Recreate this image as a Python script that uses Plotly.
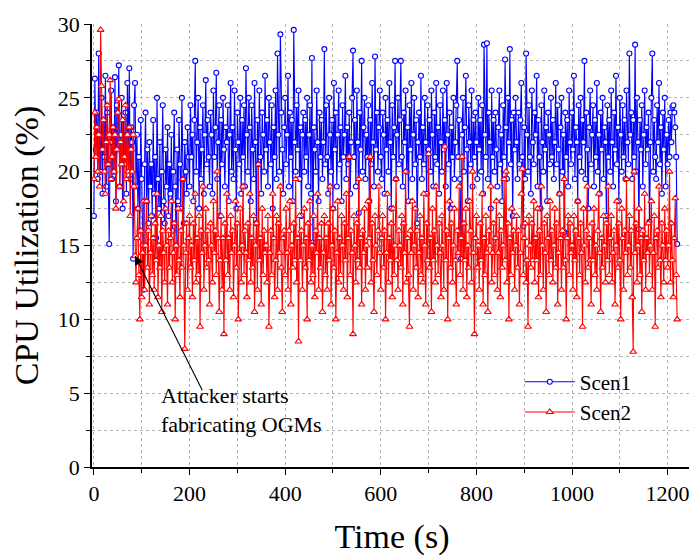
import numpy as np
import plotly.graph_objects as go

# Sampling interval (s)
dt = 2

scen1 = [
    17.0, 26.3, 21.5, 24.0, 19.5, 28.0, 22.5, 20.0, 25.0, 18.5, 23.5, 21.0, 26.5, 19.0, 24.0, 20.5, 15.1, 22.0, 25.5, 19.5,
    23.0, 20.0, 26.4, 18.0, 24.5, 21.5, 27.2, 19.0, 22.5, 25.0, 17.5, 23.5, 20.5, 24.0, 18.5, 26.0, 21.0, 27.0, 19.5, 23.0,
    22.0, 14.1, 24.5, 26.0, 19.0, 22.5, 17.5, 21.0, 16.0, 23.5, 19.5, 15.0, 12.0, 20.5, 24.0, 18.0, 21.5, 16.5, 22.0, 19.0,
    20.5, 17.0, 23.5, 18.5, 21.0, 15.5, 25.0, 19.5, 17.5, 22.0, 14.5, 20.0, 24.5, 18.0, 16.5, 21.5, 19.0, 23.0, 17.0, 20.5,
    18.5, 22.5, 16.0, 20.0, 24.0, 19.0, 15.0, 21.5, 18.0, 23.5, 20.5, 17.5, 25.0, 19.5, 16.5, 22.0, 20.0, 18.5, 23.0, 21.0,
    19.0, 24.5, 21.0, 22.5, 18.0, 23.5, 27.5, 20.0, 22.0, 25.0, 17.5, 23.0, 19.5, 21.5, 24.5, 18.5, 22.5, 26.2, 20.5, 23.5,
    21.0, 19.0, 24.0, 22.5, 18.5, 25.5, 21.0, 23.0, 26.7, 19.5, 22.0, 24.5, 17.0, 23.5, 20.5, 25.0, 21.5, 19.0, 23.0, 22.0,
    24.5, 18.0, 22.5, 26.0, 20.0, 23.0, 19.5, 25.5, 21.5, 17.5, 24.0, 22.0, 20.5, 25.0, 18.5, 23.5, 21.0, 24.5, 19.0, 27.0,
    22.5, 20.0, 25.0, 23.0, 18.0, 24.5, 21.5, 19.5, 26.0, 22.0, 16.5, 23.5, 20.5, 25.5, 21.0, 18.5, 24.0, 22.5, 20.0, 26.5,
    21.5, 23.5, 19.0, 25.0, 22.0, 20.5, 24.5, 17.5, 23.0, 21.0, 25.5, 19.5, 28.0, 22.5, 20.0, 29.3, 24.0, 21.5, 18.5, 23.0,
    25.0, 20.5, 22.5, 26.5, 19.0, 24.0, 21.0, 23.5, 18.0, 29.6, 22.0, 20.0, 24.5, 21.5, 25.5, 19.5, 23.0, 17.0, 22.5, 24.0,
    20.0, 23.5, 21.0, 25.0, 19.0, 22.5, 24.5, 18.5, 27.7, 15.2, 23.0, 21.5, 20.0, 25.5, 22.0, 18.0, 24.0, 21.0, 23.5, 19.5,
    22.0, 28.3, 20.5, 24.5, 21.0, 18.5, 25.0, 22.5, 20.0, 23.5, 17.5, 26.0, 21.5, 24.0, 19.0, 22.5, 25.5, 20.5, 23.0, 18.0,
    24.5, 21.0, 22.5, 26.5, 19.5, 23.0, 20.5, 24.0, 18.5, 22.0, 25.0, 28.2, 21.0, 23.5, 19.0, 25.5, 22.0, 17.2, 24.0, 21.5,
    27.5, 20.0, 23.0, 25.0, 19.5, 22.5, 21.0, 24.5, 18.0, 23.5, 20.5, 26.0, 22.0, 19.0, 27.8, 21.5, 24.0, 20.0, 23.0, 25.5,
    21.0, 19.5, 24.0, 22.5, 18.5, 25.0, 21.5, 23.5, 20.0, 26.0, 22.0, 17.5, 24.5, 21.0, 23.0, 27.5, 19.5, 22.5, 25.0, 20.5,
    23.5, 27.5, 21.0, 19.0, 24.0, 22.0, 25.5, 20.0, 23.0, 18.0, 24.5, 21.5, 26.0, 19.5, 22.5, 25.0, 20.5, 23.5, 16.5, 22.0,
    24.0, 21.0, 26.5, 19.5, 23.0, 20.5, 25.0, 22.0, 18.5, 24.5, 21.5, 23.5, 20.0, 25.5, 22.5, 19.0, 24.0, 21.0, 26.0, 20.5,
    23.0, 18.5, 24.5, 22.0, 20.0, 25.5, 21.5, 23.5, 19.0, 26.0, 22.5, 20.5, 24.0, 17.5, 23.0, 21.0, 25.0, 19.5, 22.0, 24.5,
    27.5, 21.0, 23.5, 19.5, 14.1, 22.5, 25.0, 20.0, 23.0, 26.5, 21.5, 18.0, 24.5, 22.0, 20.5, 25.5, 19.0, 23.5, 21.0, 24.0,
    22.0, 19.5, 25.0, 21.5, 23.5, 20.0, 24.5, 18.5, 28.6, 22.5, 21.0, 28.7, 19.5, 24.0, 22.0, 17.5, 25.5, 21.0, 23.5, 20.0,
    24.0, 21.5, 19.0, 23.0, 25.5, 20.5, 22.5, 18.0, 24.5, 21.0, 27.6, 23.0, 19.5, 25.0, 22.0, 28.3, 20.5, 23.5, 17.0, 24.0,
    21.5, 25.0, 22.0, 19.5, 24.0, 20.5, 23.5, 26.0, 21.0, 16.3, 23.0, 19.5, 28.0, 22.5, 20.0, 24.5, 21.0, 18.5, 25.5, 22.0,
    20.5, 24.0, 22.5, 26.5, 19.0, 23.5, 21.0, 17.5, 24.5, 22.0, 20.0, 25.5, 21.5, 23.0, 18.0, 24.0, 22.5, 20.5, 25.0, 21.0,
    23.5, 19.5, 22.0, 26.0, 20.5, 24.5, 21.5, 18.5, 23.0, 25.0, 20.0, 22.5, 15.9, 24.0, 21.0, 23.5, 19.0, 25.5, 22.0, 20.5,
    24.0, 21.5, 26.5, 19.5, 23.0, 22.0, 18.0, 24.5, 21.0, 25.0, 20.0, 23.5, 22.0, 27.5, 19.5, 24.0, 21.5, 17.5, 23.0, 25.5,
    20.5, 22.5, 24.5, 19.0, 23.5, 21.0, 26.0, 20.0, 22.5, 18.5, 24.0, 21.5, 25.0, 19.5, 23.0, 22.0, 17.0, 24.5, 21.0, 23.5,
    20.0, 25.5, 22.0, 19.0, 24.0, 21.5, 26.5, 20.5, 23.0, 18.0, 25.0, 22.5, 20.0, 24.5, 21.0, 23.5, 19.5, 25.5, 22.0, 20.5,
    28.0, 22.5, 24.0, 19.5, 23.5, 21.0, 28.6, 20.0, 25.0, 22.0, 16.1, 23.5, 21.5, 24.5, 19.0, 22.5, 25.5, 20.5, 23.0, 21.5,
    24.0, 16.6, 22.0, 25.0, 28.0, 20.0, 23.5, 21.0, 19.5, 24.5, 22.0, 26.0, 20.5, 23.0, 18.5, 24.0, 21.5, 25.0, 19.0, 22.5,
    20.5, 23.5, 21.0, 24.0, 22.0, 24.4, 24.5, 24.0, 23.0, 21.0, 15.1,
]

scen2 = [
    19.5, 24.0, 21.0, 23.0, 20.0, 22.5, 19.0, 29.6, 25.8, 21.5, 23.5, 20.0, 18.5, 22.0, 24.5, 20.5, 22.5, 26.2, 19.5, 21.0,
    23.0, 20.0, 22.5, 17.5, 21.5, 24.0, 24.9, 19.0, 22.0, 20.5, 23.5, 18.0, 21.0, 24.5, 19.5, 22.5, 20.0, 23.0, 17.0, 21.5,
    20.0, 22.5, 19.0, 14.3, 12.5, 15.5, 17.5, 13.0, 10.0, 16.0, 11.5, 14.5, 18.0, 12.0, 15.0, 18.0, 13.5, 16.0, 11.0, 14.5,
    17.0, 13.0, 15.5, 12.0, 16.5, 14.0, 18.5, 11.5, 15.0, 13.5, 17.0, 10.5, 16.0, 14.5, 12.5, 17.5, 15.0, 11.0, 16.0, 13.5,
    15.5, 18.0, 12.5, 14.5, 16.5, 10.0, 15.0, 13.0, 17.5, 14.0, 11.5, 16.0, 13.5, 19.5, 15.0, 8.0, 14.5, 16.5, 12.0, 15.5,
    17.0, 13.5, 15.0, 11.5, 16.5, 14.0, 18.5, 12.5, 15.5, 13.0, 17.0, 9.5, 16.0, 14.5, 19.0, 12.0, 15.0, 17.5, 13.5, 16.0,
    14.0, 11.0, 16.5, 15.0, 12.5, 18.0, 14.5, 16.0, 13.0, 20.0, 15.5, 10.5, 14.0, 17.0, 12.0, 15.5, 9.0, 16.5, 14.0, 18.5,
    13.0, 15.5, 12.0, 17.0, 14.5, 16.0, 11.5, 15.0, 18.0, 13.5, 16.5, 10.0, 14.5, 17.5, 12.5, 15.0, 19.0, 13.0, 16.0, 14.5,
    11.5, 16.5, 14.0, 18.5, 12.5, 15.5, 13.5, 17.0, 10.5, 15.0, 16.5, 12.0, 20.5, 14.0, 15.5, 11.0, 17.5, 13.0, 16.0, 14.5,
    15.0, 12.5, 17.0, 9.5, 14.5, 16.0, 13.0, 18.5, 15.5, 11.5, 14.0, 17.0, 12.0, 16.5, 14.5, 19.0, 13.5, 10.5, 15.5, 16.0,
    13.0, 17.5, 14.5, 12.0, 16.0, 18.0, 11.0, 15.0, 13.5, 16.5, 14.0, 19.5, 12.5, 15.5, 8.5, 17.0, 14.0, 16.0, 12.0, 15.0,
    17.5, 13.5, 15.5, 10.0, 16.5, 14.0, 18.0, 12.5, 15.0, 13.0, 17.0, 11.5, 16.0, 14.5, 18.5, 12.0, 15.5, 13.5, 16.5, 10.5,
    14.5, 17.0, 13.0, 15.5, 12.0, 16.5, 14.0, 19.0, 11.0, 15.0, 17.5, 13.5, 16.0, 10.0, 14.5, 18.0, 12.5, 15.5, 13.0, 17.0,
    15.0, 12.0, 16.5, 14.0, 18.5, 11.5, 15.5, 21.0, 13.0, 16.0, 14.5, 9.0, 17.0, 15.0, 12.5, 16.5, 14.0, 19.5, 13.5, 15.5,
    11.0, 16.0, 14.5, 17.5, 12.0, 15.0, 13.5, 18.0, 15.5, 21.0, 12.5, 16.5, 14.0, 10.5, 17.0, 15.0, 13.0, 16.0, 19.0, 14.5,
    12.0, 15.5, 17.0, 13.5, 16.0, 10.0, 14.5, 18.5, 12.5, 15.5, 14.0, 16.5, 11.5, 17.5, 13.0, 15.0, 19.5, 14.0, 12.0, 16.0,
    15.0, 13.5, 17.0, 11.0, 16.5, 14.5, 20.0, 12.5, 15.5, 13.0, 9.5, 16.0, 14.5, 18.0, 12.0, 15.0, 17.5, 13.5, 16.0, 11.5,
    14.5, 17.0, 13.0, 15.5, 12.5, 18.5, 15.0, 11.0, 16.5, 14.0, 21.2, 13.5, 15.5, 10.5, 17.5, 14.0, 16.0, 12.5, 19.0, 15.0,
    13.0, 16.5, 14.5, 11.5, 17.0, 15.0, 12.0, 21.7, 14.0, 16.0, 10.0, 15.5, 18.0, 13.5, 16.5, 12.5, 15.0, 17.5, 14.0, 11.0,
    16.0, 14.5, 19.0, 13.0, 15.5, 21.0, 12.0, 16.5, 14.0, 17.5, 11.5, 15.0, 13.5, 18.0, 16.0, 12.5, 20.0, 14.5, 9.0, 15.5,
    17.0, 13.5, 15.0, 12.0, 16.5, 14.0, 18.5, 11.0, 15.5, 13.0, 17.0, 14.5, 10.5, 16.0, 15.0, 19.0, 12.5, 14.5, 16.5, 13.0,
    15.5, 18.0, 12.0, 14.5, 17.0, 11.5, 16.0, 13.5, 15.0, 19.5, 14.0, 20.0, 12.5, 16.5, 10.0, 15.5, 13.0, 17.5, 14.5, 16.0,
    12.0, 15.0, 17.0, 13.5, 16.0, 11.0, 14.5, 18.5, 20.2, 13.0, 15.5, 16.5, 12.5, 14.0, 9.5, 17.0, 15.0, 13.5, 16.5, 14.0,
    18.0, 12.5, 15.5, 14.0, 17.5, 11.5, 16.0, 13.0, 19.0, 15.0, 12.0, 16.5, 14.5, 10.5, 17.0, 15.5, 13.0, 18.0, 14.0, 16.0,
    12.5, 15.0, 17.5, 13.5, 16.5, 11.0, 14.5, 18.5, 15.5, 12.0, 16.0, 13.5, 19.5, 14.0, 10.0, 15.5, 17.0, 13.0, 16.5, 14.5,
    15.0, 12.0, 17.0, 14.0, 16.0, 11.5, 18.0, 15.5, 13.0, 16.5, 14.5, 9.5, 17.5, 15.0, 12.5, 16.0, 19.0, 13.5, 15.5, 14.0,
    11.0, 16.5, 14.0, 17.5, 13.0, 15.0, 12.0, 16.0, 18.5, 14.5, 10.5, 15.5, 13.5, 17.0, 15.0, 12.5, 16.5, 14.0, 19.0, 13.0,
    15.5, 17.0, 12.5, 14.5, 16.0, 11.0, 15.0, 18.0, 13.5, 16.5, 14.0, 10.0, 17.5, 15.5, 12.0, 16.0, 14.5, 19.5, 13.0, 15.0,
    17.0, 13.5, 16.0, 11.5, 7.8, 20.0, 14.5, 16.5, 12.5, 15.0, 17.5, 13.0, 15.5, 10.5, 16.0, 14.0, 18.5, 12.0, 15.5, 14.5,
    16.5, 13.0, 15.0, 18.0, 12.0, 14.5, 17.0, 9.5, 15.5, 16.0, 13.5, 19.0, 14.0, 11.5, 16.5, 15.0, 12.5, 17.5, 14.0, 16.0,
    13.5, 15.0, 20.0, 12.5, 16.5, 14.0, 11.5, 15.5, 18.2, 13.0, 10.0,
]

t1 = np.arange(len(scen1)) * dt
t2 = np.arange(len(scen2)) * dt

# index of the sample where the attack begins (arrow target)
attack_idx = 43

FONT = "Liberation Serif, Times New Roman, serif"

fig = go.Figure()
fig.add_trace(go.Scatter(
    x=t1, y=scen1, mode="lines+markers", name="Scen1",
    line=dict(color="#0000FF", width=1.1),
    marker=dict(symbol="circle", size=5, color="white",
                line=dict(color="#0000FF", width=1.1)),
))
fig.add_trace(go.Scatter(
    x=t2, y=scen2, mode="lines+markers", name="Scen2",
    line=dict(color="#FF0000", width=1.1),
    marker=dict(symbol="triangle-up", size=6, color="white",
                line=dict(color="#FF0000", width=1.1)),
))

fig.add_annotation(
    x=t2[attack_idx], y=scen2[attack_idx], xref="x", yref="y",
    text="", showarrow=True, ax=68, ay=136,
    arrowhead=2, arrowsize=1.6, arrowwidth=1.1, arrowcolor="black",
)
fig.add_annotation(
    x=136, y=5.8, xref="x", yref="y", xanchor="left", yanchor="top",
    text="Attacker starts<br>fabricating OGMs", showarrow=False, align="left",
    font=dict(family=FONT, size=22, color="black"),
)

axis_common = dict(
    showline=True, linecolor="black", linewidth=1.6,
    ticks="outside", ticklen=6, tickwidth=1.4, tickcolor="black",
    showgrid=True, gridcolor="#b4b4b4", griddash="dot", gridwidth=1,
    zeroline=False, mirror=False, automargin=False,
    tickfont=dict(family=FONT, size=22, color="black"),
)

fig.update_xaxes(
    range=[-4, 1251], dtick=200, tick0=0,
    title=dict(text="Time (s)", font=dict(family=FONT, size=34, color="black"), standoff=33),
    minor=dict(dtick=100, tick0=0, ticks="outside", ticklen=4, tickwidth=1.2, tickcolor="black",
               showgrid=True, gridcolor="#b4b4b4", griddash="dot", gridwidth=1),
    **axis_common,
)
fig.update_yaxes(
    range=[0, 30], dtick=5, tick0=0,
    title=dict(text="CPU Utilization (%)", font=dict(family=FONT, size=34, color="black"), standoff=10),
    minor=dict(dtick=2.5, tick0=0, ticks="outside", ticklen=4, tickwidth=1.2, tickcolor="black",
               showgrid=True, gridcolor="#b4b4b4", griddash="dot", gridwidth=1),
    **axis_common,
)

# The page body has an 8px default margin, so the figure is sized/margined to compensate
fig.update_layout(
    width=689, height=548,
    margin=dict(l=84, r=5, t=16, b=89),
    plot_bgcolor="white", paper_bgcolor="white",
    font=dict(family=FONT, color="black"),
    showlegend=True,
    legend=dict(
        x=0.713, y=0.238, xanchor="left", yanchor="top",
        bgcolor="rgba(0,0,0,0)", borderwidth=0,
        font=dict(family=FONT, size=21, color="black"),
        itemwidth=50, tracegroupgap=0,
    ),
)

fig.write_html("out.html")
